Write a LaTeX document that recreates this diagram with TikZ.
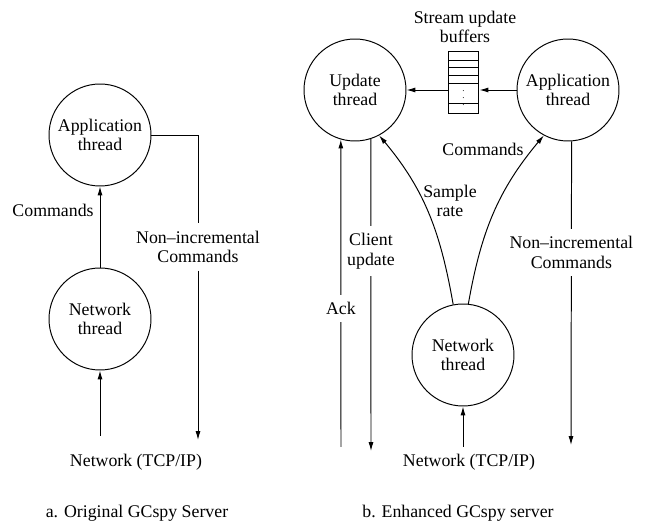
\documentclass[tikz,border=0pt]{standalone}
\usepackage{fontspec}
\setmainfont{Liberation Serif}
\usetikzlibrary{arrows.meta}
\begin{document}
\begin{tikzpicture}[x=0.5618pt, y=-0.5618pt, line width=0.55pt, >={Latex[length=5pt,width=2.8pt]},
        every node/.style={font=\fontsize{10}{11}\selectfont, align=center},
        thread/.style={circle, draw, minimum size=57.3pt, inner sep=0pt},
        gaplabel/.style={fill=white, inner xsep=1pt, inner ysep=4pt}]
        \useasboundingbox (0,0) rectangle (646,524);

        % a. Original server
        \node[thread] (appA) at (100,135) {Application\\thread};
        \node[thread] (netA) at (100,319) {Network\\thread};
        \node (tcpA) at (136,462) {Network (TCP/IP)};
        \node (capA) at (137,513) {a. Original GCspy Server};
        \coordinate (inA) at (100,436);
        \coordinate (outA) at (198,440);
        \node[gaplabel] (nonA) at (198,247) {Non--incremental\\Commands};

        \draw[->] (inA) -- (netA);
        \draw[->] (netA) -- node[pos=0.7, left] (cmdA) {Commands} (appA);
        \draw (appA) -| (nonA);
        \draw[->] (nonA) -- (outA);

        % b. Enhanced server
        \node[thread] (upd) at (355,90) {Update\\thread};
        \node[thread] (appB) at (568,90) {Application\\thread};
        \node[thread] (netB) at (463,355) {Network\\thread};
        \node (tcpB) at (469,462) {Network (TCP/IP)};
        \node (capB) at (458,513) {b. Enhanced GCspy server};

        % Stream buffers
        \node[draw, minimum width=17.4pt, minimum height=34.3pt, inner sep=0pt] (buf) at (463.5,82.5) {};
        \foreach \y in {60,67,75,83,103}
            \draw (448,\y) -- (479,\y);
        \node[font=\tiny, inner sep=0pt] (dots) at (463.5,93) {$\vdots$};
        \node (bufLbl) at (465,27) {Stream update\\buffers};

        \draw[->] (appB) -- (appB -| buf.east);
        \draw[->] (buf.west |- upd) -- (upd);

        % Network links
        \coordinate (ackIn) at (341,447);
        \coordinate (cliOut) at (371,451);
        \coordinate (netIn) at (463,447);
        \coordinate (outB) at (571,445);
        \draw[->] (ackIn) -- node[gaplabel, pos=0.45] (ack) {Ack} (upd.-106);
        \draw[->] (upd.-72) -- node[gaplabel, pos=0.36] (cli) {Client\\update} (cliOut);
        \draw[->] (appB.-86) -- node[gaplabel, pos=0.366] (nonB) {Non--incremental\\Commands} (outB);
        \draw[->] (netIn) -- (netB);

        % Curved links
        \draw[->] (netB.101) to[out=100, in=-50] (upd.-62);
        \draw[->] (netB.84) to[out=80, in=-130] (appB.-118);
        \node (rate) at (450,201) {Sample\\rate};
        \node (cmdB) at (483,149) {Commands};
\end{tikzpicture}
\end{document}
